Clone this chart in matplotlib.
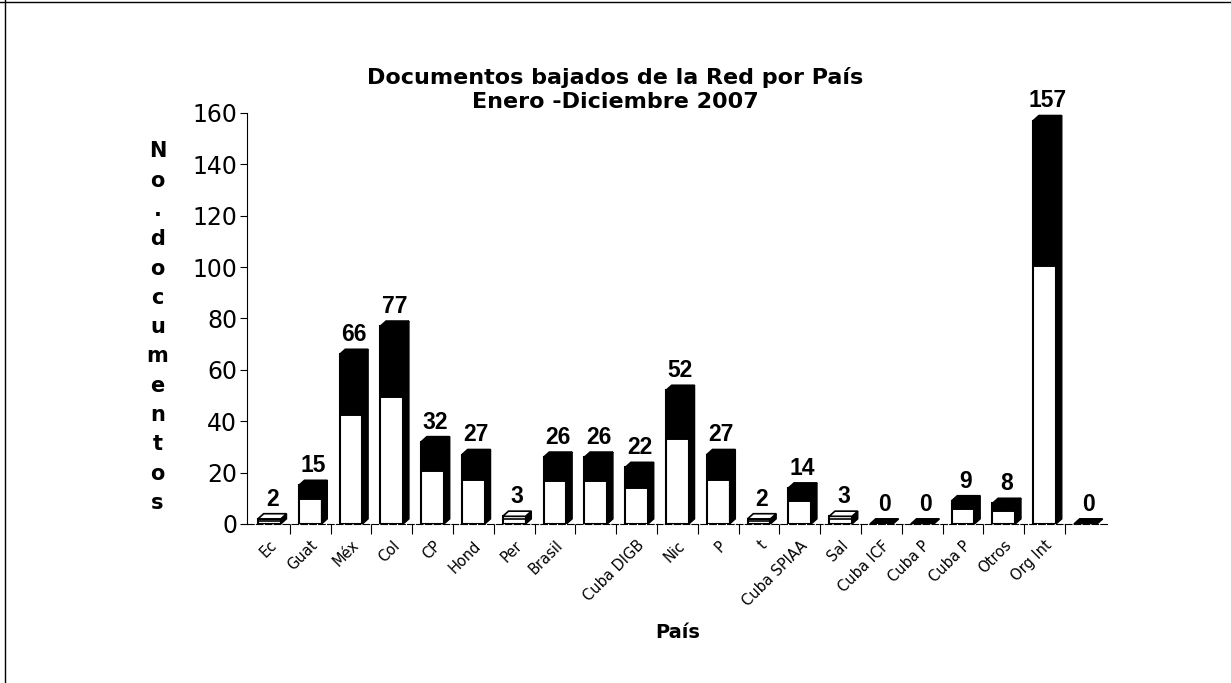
import numpy as np
import matplotlib
matplotlib.use("Agg")
import matplotlib.pyplot as plt
from matplotlib.patches import Polygon

# datos
paises = ["Ec", "Guat", "Méx", "Col", "CP", "Hond", "Per", "Brasil", "",
          "Cuba DIGB", "Nic", "P", "t", "Cuba SPIAA", "Sal", "Cuba ICF",
          "Cuba P", "Cuba P", "Otros", "Org Int", ""]
documentos = [2, 15, 66, 77, 32, 27, 3, 26, 26, 22, 52, 27, 2, 14, 3, 0, 0, 9, 8, 157, 0]
y_ticks = [0, 20, 40, 60, 80, 100, 120, 140, 160]

plt.rcParams['font.family'] = ['DejaVu Sans']

fig = plt.figure(figsize=(12.31, 6.83), dpi=100)
ax = fig.add_axes([0.2006, 0.2328, 0.6994, 0.6018])

x = np.arange(len(documentos))
w = 0.56      # ancho de la cara frontal
dx = 0.14     # profundidad 3D en x
dy = 2.0      # profundidad 3D en y
blanco = 0.64  # parte blanca de la cara frontal

for xi, v in zip(x, documentos):
    x0, x1 = xi - w / 2, xi + w / 2
    if v > 0:
        # cara frontal: blanca abajo, negra arriba
        ax.bar(xi, v * blanco, width=w, color='white', edgecolor='black', linewidth=1.2, zorder=3)
        if v > 5:
            ax.bar(xi, v * (1 - blanco), bottom=v * blanco, width=w, color='black',
                   edgecolor='black', linewidth=1.2, zorder=3)
        ax.bar(xi, v, width=w, fill=False, edgecolor='black', linewidth=1.5, zorder=4)
        # cara lateral
        lado = Polygon([(x1, 0), (x1 + dx, dy), (x1 + dx, v + dy), (x1, v)],
                       closed=True, facecolor='black', edgecolor='black', zorder=3)
        ax.add_patch(lado)
    # cara superior
    arriba = Polygon([(x0, v), (x1, v), (x1 + dx, v + dy), (x0 + dx, v + dy)],
                     closed=True, facecolor='black' if (v == 0 or v > 5) else 'white',
                     edgecolor='black', linewidth=1.2, zorder=4)
    ax.add_patch(arriba)
    ax.text(xi + dx / 2, v + dy + 1.2, str(v), ha='center', va='bottom',
            fontsize=16.5, fontweight='bold', family='Liberation Sans', zorder=5)

ax.set_xlim(-0.55, len(documentos) - 0.45)
ax.set_ylim(0, 160)
ax.set_yticks(y_ticks)
ax.set_yticklabels([str(t) for t in y_ticks], fontsize=17)
ax.tick_params(axis='y', direction='out', length=5, width=0.8, pad=2)

# marcas entre categorias, etiquetas centradas
ax.set_xticks(x[:-1] + 0.5)
ax.set_xticklabels([])
ax.tick_params(axis='x', direction='out', length=7, width=0.8)
ax.set_xticks(x, minor=True)
ax.set_xticklabels(paises, minor=True, rotation=45, ha='right', rotation_mode='anchor',
                   fontsize=10.5)
ax.tick_params(axis='x', which='minor', length=0, pad=10)

for s in ['top', 'right']:
    ax.spines[s].set_visible(False)
ax.spines['left'].set_linewidth(0.8)
ax.spines['bottom'].set_linewidth(0.8)
ax.spines['bottom'].set_linestyle((0, (6, 2)))

ax.set_xlabel('País', fontsize=14, fontweight='bold', labelpad=10)

# titulo
fig.text(0.5, 0.887, 'Documentos bajados de la Red por País', ha='center', va='center',
         fontsize=16, fontweight='bold')
fig.text(0.5, 0.850, 'Enero -Diciembre 2007', ha='center', va='center',
         fontsize=16, fontweight='bold')

# etiqueta del eje y letra por letra
fig.text(0.128, 0.521, "\n".join("No.documentos"), ha='center', va='center',
         fontsize=15, fontweight='bold', linespacing=1.58)

# marco
fig.add_artist(plt.Line2D([0.004, 0.004], [0, 1], color='black', linewidth=1))
fig.add_artist(plt.Line2D([0, 1], [0.997, 0.997], color='black', linewidth=1))

fig.savefig('out.png', dpi=100)
